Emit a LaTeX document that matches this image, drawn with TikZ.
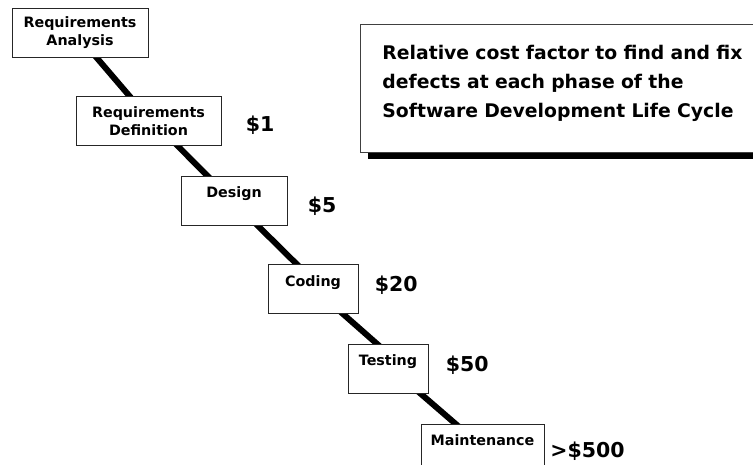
\documentclass[tikz,border=0pt]{standalone}
\usepackage{fontspec}
\setmainfont{DejaVu Sans}
\usetikzlibrary{positioning,calc,backgrounds,shadows}
\tikzset{
  phase/.style ={rectangle, draw=black!85, line width=0.8pt, fill=white,
                 align=center, font=\bfseries\fontsize{14.3}{18}\selectfont,
                 inner sep=0pt, minimum height=49pt},
  onel/.style  ={text height=21.9pt, text depth=27.1pt},   % one line, set near the top
  cost/.style  ={inner sep=0pt, outer sep=0pt,
                 font=\bfseries\fontsize{20.5}{24}\selectfont},
  note/.style  ={rectangle, draw=black!75, line width=0.8pt, fill=white,
                 align=left, text width=376pt, inner xsep=22pt, inner ysep=0pt,
                 text height=34.85pt, text depth=93.15pt,
                 font=\bfseries\fontsize{18.8}{29}\selectfont,
                 drop shadow={shadow xshift=8pt, shadow yshift=-7pt, fill=black, opacity=1}},
  link/.style  ={line width=6pt, draw=black, shorten <=-4pt, shorten >=-4pt},
}

\begin{document}
\begin{tikzpicture}[x=1pt, y=-1pt]
  \useasboundingbox (0,0) rectangle (753,465);
  \clip (0,0) rectangle (753,465);

  % the phases, stepping down to the right
  \node[phase, minimum width=136pt]       (ra)  at (80,32.5)    {Requirements\\Analysis};
  \node[phase, minimum width=145pt]       (rd)  at (148.5,121)  {Requirements\\Definition};
  \node[phase, onel, minimum width=106pt] (des) at (234,200.5)  {Design};
  \node[phase, onel, minimum width=90pt]  (cod) at (313,289)    {Coding};
  \node[phase, onel, minimum width=80pt]  (tst) at (388,368.5)  {Testing};
  \node[phase, onel, minimum width=123pt] (mnt) at (482.5,448.5) {Maintenance};

  % relative cost
  \node[cost, right=24.5pt of rd,  yshift=-4pt]   (c1)   {\$1};
  \node[cost, right=20.5pt of des, yshift=-5.5pt] (c5)   {\$5};
  \node[cost, right=16.5pt of cod, yshift=4pt]    (c20)  {\$20};
  \node[cost, right=17.5pt of tst, yshift=3.5pt]  (c50)  {\$50};
  \node[cost, right=6pt of mnt,    yshift=-2.5pt] (c500) {>\$500};

  \node[note, anchor=north west] (msg) at (360,24)
    {Relative cost factor to find and fix\\defects at each phase of the\\Software Development Life Cycle};

  \begin{scope}[on background layer]
    \draw[link] ($(ra.south west)!.62!(ra.south east)$)   -- ($(rd.north west)!.37!(rd.north east)$);
    \draw[link] ($(rd.south west)!.70!(rd.south east)$)   -- ($(des.north west)!.25!(des.north east)$);
    \draw[link] ($(des.south west)!.72!(des.south east)$) -- ($(cod.north west)!.32!(cod.north east)$);
    \draw[link] ($(cod.south west)!.83!(cod.south east)$) -- ($(tst.north west)!.36!(tst.north east)$);
    \draw[link] ($(tst.south west)!.90!(tst.south east)$) -- ($(mnt.north west)!.28!(mnt.north east)$);
  \end{scope}
\end{tikzpicture}
\end{document}
